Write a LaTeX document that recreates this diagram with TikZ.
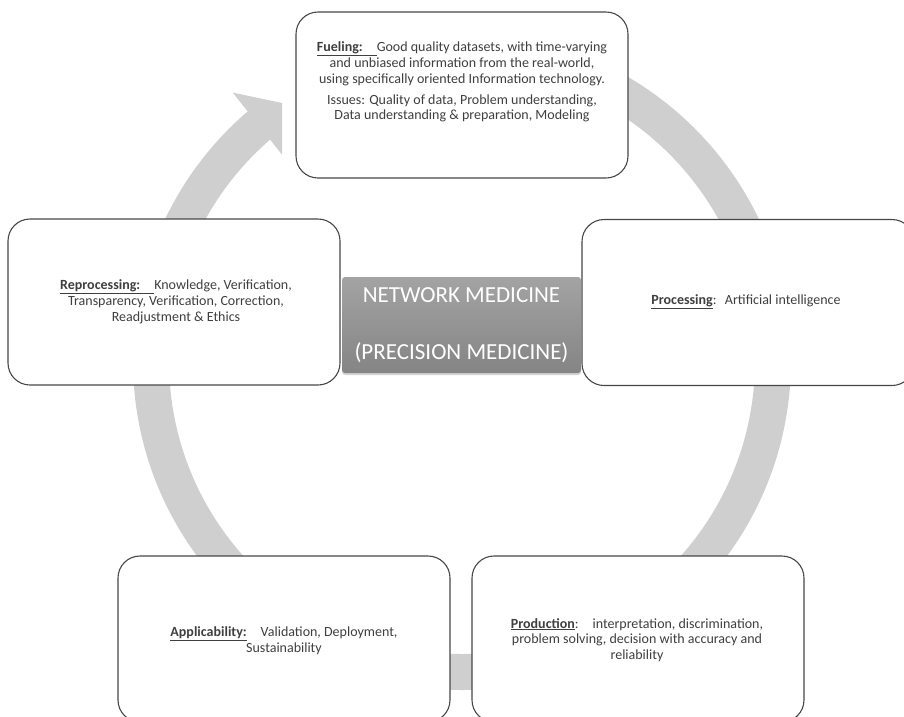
\documentclass[tikz,border=0pt]{standalone}
\usepackage{fontspec}
\setmainfont{Carlito}
\usepackage{xcolor}
\usetikzlibrary{calc,shadows}
\definecolor{txtgray}{HTML}{3F3F3F}
\definecolor{ringgray}{HTML}{CFCFCF}
\definecolor{edgegray}{HTML}{474747}

\begin{document}
\begin{tikzpicture}[x=1pt, y=-1pt,
        stagebox/.style={draw=edgegray, line width=1.1pt, fill=white, rounded corners=22pt, minimum width=332pt, minimum height=166pt},
        stagetext/.style={text=txtgray, align=center, font=\fontsize{14}{15.8}\selectfont},
        hubbox/.style={top color=black!36, bottom color=black!48, rounded corners=3pt, minimum width=239pt, minimum height=96pt,
            text=white, align=center, font=\fontsize{23}{27}\selectfont, drop shadow={opacity=0.35, shadow xshift=0pt, shadow yshift=-2pt}}]
             \useasboundingbox (0,0) rectangle (904,716);
             \coordinate (ring) at (462,361);
             \draw [ringgray, line width=36pt] ($(ring)+(229.5:311)$) arc [start angle=229.5, end angle=-90, radius=311];
             \fill [ringgray] ($(ring)+(229.5:353)$) -- ($(ring)+(235.1:314.6)$) -- ($(ring)+(228.9:273.6)$) -- cycle;  % TODO: head sits a bit short of the box
             \node [stagebox] (fuel) at (462,95) {};
             \node [stagebox] (reproc) at (174,302) {};
             \node [stagebox] (proc) at (748,302.5) {};
             \node [stagebox] (apply) at (284,639) {};
             \node [stagebox] (prod) at (638,639) {};
             \node [stagetext] (fueltxt) at (462,82) {\underline{\textbf{Fueling:}\hspace{1em}}Good quality datasets, with time-varying\\ and unbiased information from the real-world,\\ using specifically oriented Information technology.\\[5pt] Issues: Quality of data, Problem understanding,\\ Data understanding \& preparation, Modeling};
             \node [stagetext] (reproctxt) at (176,302) {\underline{\textbf{Reprocessing:}\hspace{1em}}Knowledge, Verification,\\ Transparency, Verification, Correction,\\ Readjustment \& Ethics};
             \node [stagetext] (proctxt) at (746,302) {\underline{\textbf{Processing}}:\hspace{0.6em}Artificial intelligence};
             \node [stagetext] (applytxt) at (284,641) {\underline{\textbf{Applicability:}}\hspace{1em}Validation, Deployment,\\ Sustainability};
             \node [stagetext] (prodtxt) at (637,640) {\underline{\textbf{Production}}:\hspace{1em}interpretation, discrimination,\\ problem solving, decision with accuracy and\\ reliability};
             \node [hubbox] (hub) at (461.5,325) {NETWORK MEDICINE\\[30pt] (PRECISION MEDICINE)};   % TODO: gradient a bit flat
        \end{tikzpicture}
\end{document}
